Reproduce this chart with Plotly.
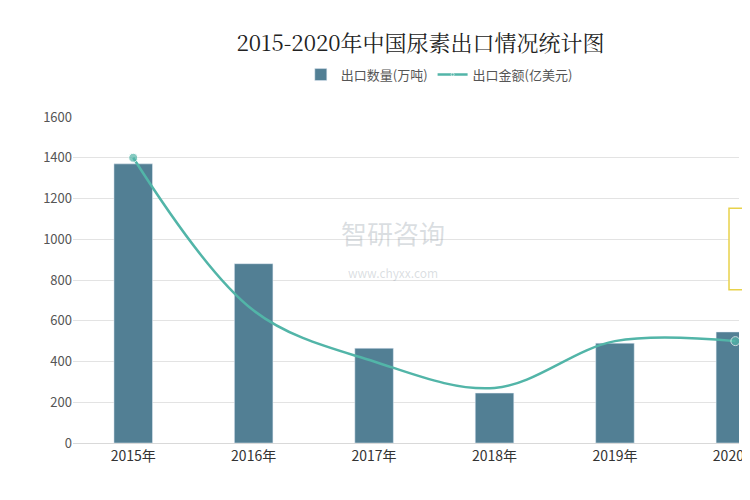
import plotly.graph_objects as go

years = ["2015年", "2016年", "2017年", "2018年", "2019年", "2020年"]
qty = [1370, 880, 465, 245, 490, 545]       # 出口数量(万吨)
value = [1400, 650, 400, 270, 500, 500]     # 出口金额(亿美元), drawn on same scale

FONT = "Noto Sans CJK SC"

fig = go.Figure()
fig.add_trace(go.Bar(x=years, y=qty, name="出口数量(万吨)", marker_color="#527f94",
                     width=0.32))
fig.add_trace(go.Scatter(x=years, y=value, name="出口金额(亿美元)", mode="lines+markers",
                         line=dict(color="#52b5a8", width=2.5, shape="spline", smoothing=1.0),
                         marker=dict(size=[9, 0, 0, 0, 0, 9], color="#52b5a8")))

fig.update_layout(
    width=750, height=500,
    margin=dict(l=65, r=0, t=109, b=65),
    paper_bgcolor="white", plot_bgcolor="white",
    font=dict(family=FONT, size=13, color="#444"),
    title=dict(text="2015-2020年中国尿素出口情况统计图", x=0.55, y=0.945, xanchor="center",
               font=dict(family="Noto Serif CJK SC, " + FONT, size=22, color="#222")),
    legend=dict(orientation="h", x=0.55, xanchor="center", y=1.13, yanchor="middle",
                font=dict(size=13, color="#555")),
    xaxis=dict(range=[-0.5, 5.03], showgrid=False, linecolor="#d9d9d9",
               ticks="", tickfont=dict(size=14, color="#333")),
    yaxis=dict(range=[0, 1600], dtick=200, gridcolor="#e3e3e3", zeroline=False,
               showline=False, tickfont=dict(size=13, color="#555")),
    bargap=0.6,
    showlegend=True,
)
fig.add_annotation(text="智研咨询<br><span style='font-size:12px'>www.chyxx.com</span>",
                   xref="paper", yref="paper", x=0.48, y=0.6, showarrow=False,
                   font=dict(size=26, color="rgba(150,160,170,0.35)"))
fig.add_shape(type="rect", xref="paper", yref="paper", x0=0.985, x1=1.05, y0=0.47, y1=0.72,
              line=dict(color="#e8d24a", width=1.5), fillcolor="white")

fig.write_html("out.html")
